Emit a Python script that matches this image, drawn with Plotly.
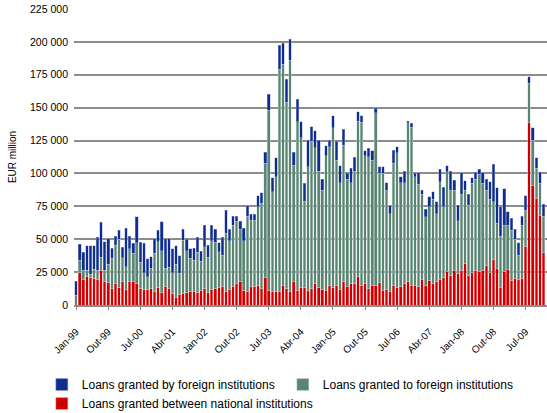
import plotly.graph_objects as go

# Monthly categories Jan-99 .. Dec-09
month_names = ["Jan", "Fev", "Mar", "Abr", "Mai", "Jun", "Jul", "Ago", "Set", "Out", "Nov", "Dez"]
years = list(range(1999, 2010))
months = [f"{m}-{str(y)[2:]}" for y in years for m in month_names]

tick_labels = ["Jan-99", "Out-99", "Jul-00", "Abr-01", "Jan-02", "Out-02", "Jul-03", "Abr-04",
               "Jan-05", "Out-05", "Jul-06", "Abr-07", "Jan-08", "Out-08", "Jul-09"]

y_tick_values = [0, 25000, 50000, 75000, 100000, 125000, 150000, 175000, 200000, 225000]
y_tick_labels = ["0", "25 000", "50 000", "75 000", "100 000", "125 000", "150 000",
                 "175 000", "200 000", "225 000"]

# EUR million
national = [
    0, 24500, 19500, 21500, 20700, 20300, 19500, 26600, 18200, 17000, 12400, 16200,
    13200, 18200, 11900, 17500, 18200, 16200, 12400, 11900, 11900, 12400, 10600, 13200,
    9400, 14400, 12400, 8900, 5800, 8100, 8900, 9400, 10600, 9900, 9400, 11100,
    12400, 9400, 11900, 12400, 13200, 14400, 10600, 11900, 14400, 16500, 17500, 11100,
    9900, 14400, 13900, 15200, 12400, 20800, 11100, 9900, 10600, 9900, 15200, 12400,
    9900, 17500, 11100, 13200, 13200, 11100, 12400, 16200, 13200, 11900, 11100, 15200,
    13200, 15200, 11900, 18200, 13900, 16200, 16200, 21500, 15200, 16200, 12400, 15200,
    15200, 17000, 11100, 12000, 9900, 15200, 13200, 13900, 16200, 17500, 15200, 15200,
    13900, 19500, 15200, 19000, 16500, 17500, 19500, 20800, 25300, 22500, 26600, 23800,
    26600, 31700, 22500, 24600, 26600, 25300, 26600, 30400, 24600, 34700, 27600, 13200,
    25300, 27100, 19000, 20300, 19500, 20300, 44800, 138600, 91200, 81100, 68400, 39800,
]

granted_to_foreign = [
    7600, 9700, 7100, 5100, 2800, 6700, 7100, 9600, 8400, 13900, 23100, 29400,
    36700, 17800, 17200, 25300, 21100, 31200, 20000, 12700, 9600, 15500, 28700, 34900,
    31900, 13500, 16200, 15700, 25100, 15900, 40500, 31900, 24900, 24300, 30600, 22300,
    31900, 26800, 37000, 35200, 27300, 23600, 43900, 37000, 46400, 47300, 40000, 37800,
    57700, 50200, 50700, 59500, 64900, 86900, 137100, 76200, 86900, 169400, 167900, 141600,
    176300, 88900, 128200, 114000, 65800, 94000, 112200, 103400, 88600, 75500, 102400, 105100,
    121600, 95000, 81100, 103400, 81600, 76800, 85600, 118300, 123600, 97300, 100300, 95000,
    131000, 83100, 89000, 75400, 59300, 92500, 102600, 79100, 76800, 121100, 119800, 82300,
    78000, 64800, 51900, 55700, 63800, 51700, 74200, 53900, 76000, 64900, 60800, 40300,
    57700, 55700, 53500, 67900, 69100, 74000, 65900, 57000, 55700, 43800, 34500, 39200,
    35500, 33700, 38000, 29600, 18500, 40500, 27400, 29800, 34200, 22800, 24100, 27800,
]

granted_by_foreign = [
    10600, 11900, 13400, 18400, 21500, 18000, 24800, 26600, 21400, 19500, 7500, 6800,
    7100, 8000, 29200, 9600, 7600, 19500, 15200, 22500, 13700, 8800, 11100, 8600,
    22000, 22500, 21800, 18000, 14100, 13500, 8100, 8600, 7100, 8800, 11400, 7600,
    16200, 9400, 11600, 9900, 6900, 13400, 17400, 8600, 6800, 3800, 6300, 9400,
    7900, 4300, 4300, 8400, 8100, 8300, 11900, 10700, 14500, 18300, 15700, 17700,
    15700, 9600, 17000, 12100, 13500, 20300, 10900, 12900, 23600, 8100, 7600, 5100,
    9100, 14400, 12900, 12100, 4600, 10900, 10400, 7100, 5100, 3800, 6400, 7100,
    3200, 5000, 5000, 5600, 6300, 10100, 4500, 4500, 8800, 1200, 3000, 2600,
    8700, 3100, 5800, 7600, 5800, 9300, 9400, 14700, 4600, 14400, 7600, 11900,
    16300, 7100, 8300, 4300, 5100, 3800, 8100, 8100, 13400, 28400, 27100, 22300,
    27400, 10100, 8900, 7600, 9400, 6800, 10900, 5100, 9400, 8100, 8300, 9100,
]

series = [
    ("Loans granted between national institutions", national, "#cc0000", "rgba(255,170,170,0.9)"),
    ("Loans granted to foreign institutions", granted_to_foreign, "#5b8474", "rgba(205,222,214,0.9)"),
    ("Loans granted by foreign institutions", granted_by_foreign, "#0f2d8c", "rgba(150,165,215,0.9)"),
]

fig = go.Figure()
for name, vals, color, edge in series:
    fig.add_trace(go.Bar(
        x=months, y=vals, name=name,
        marker=dict(color=color, line=dict(color=edge, width=0.5)),
    ))

fig.update_layout(
    width=547, height=413,
    margin=dict(l=74, r=0, t=9, b=108, autoexpand=False),
    paper_bgcolor="white", plot_bgcolor="white",
    barmode="stack", bargap=0.27,
    font=dict(family="Liberation Sans, Arial, sans-serif", size=10, color="#000000"),
    showlegend=True,
    legend=dict(
        orientation="h", traceorder="reversed",
        x=-0.068, xanchor="left",
        y=-0.22, yanchor="top",
        entrywidth=196, entrywidthmode="pixels",
        font=dict(size=12, color="#000000"),
        itemwidth=30, tracegroupgap=0,
        bgcolor="rgba(0,0,0,0)",
    ),
)

fig.update_xaxes(
    type="category",
    range=[-0.6, 132],
    tickmode="array",
    tickvals=[months[months.index(t)] for t in tick_labels],
    ticktext=tick_labels,
    tickangle=-45,
    ticks="outside", ticklen=3, tickcolor="#8c8c8c", tickwidth=1,
    showline=True, linecolor="#8c8c8c", linewidth=2,
    showgrid=False,
    tickfont=dict(size=10),
    ticklabelstandoff=12,
    automargin=False,
)

fig.update_yaxes(
    range=[0, 225000],
    tickmode="array",
    tickvals=y_tick_values,
    ticktext=y_tick_labels,
    showgrid=True, gridcolor="#8c8c8c", gridwidth=2,
    zeroline=False,
    showline=False,
    ticks="",
    tickfont=dict(size=10.5),
    ticklabelstandoff=5,
    title=dict(text="EUR million", font=dict(size=10), standoff=11),
    automargin=False,
)

fig.write_html("out.html", config={"displayModeBar": False},
               post_script="document.body.style.margin='0';")
